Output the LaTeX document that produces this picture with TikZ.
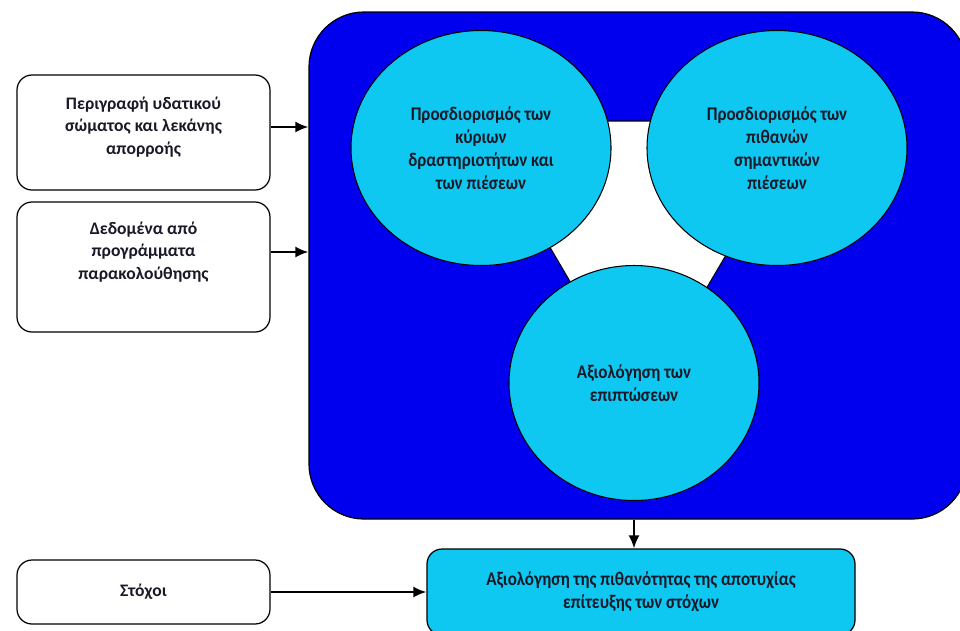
\documentclass[tikz,border=0pt]{standalone}
\usepackage{fontspec}
\setmainfont{Carlito}
\newfontfamily\narrowfont[FakeStretch=0.88]{Carlito}
\usepackage{tikz}
\usetikzlibrary{shapes.geometric,arrows.meta}

\definecolor{panelblue}{RGB}{0,0,238}
\definecolor{circcyan}{RGB}{15,200,242}
\definecolor{textdark}{RGB}{25,25,40}

\begin{document}
\begin{tikzpicture}[>={Latex[length=2.6mm,width=2.2mm]},
  srcbox/.style={draw=black, line width=0.7pt, rounded corners=0.3cm, fill=white, minimum width=5.06cm},
  boxtext/.style={align=center, text=textdark, font=\fontsize{10}{13}\selectfont\bfseries},
  circ/.style={ellipse, draw=black, line width=0.6pt, fill=circcyan, inner sep=0pt,
    minimum width=5.2cm, minimum height=4.7cm, align=center, text=textdark,
    font=\narrowfont\fontsize{11}{13}\selectfont\bfseries},
  arr/.style={->, line width=1.1pt}]
\useasboundingbox (0,0) rectangle (19.2,-12.6);

% Inputs
\node[srcbox, minimum height=2.30cm] (desc) at (2.87,-2.65) {};
\node[boxtext] (desctext) at (2.87,-2.54) {Περιγραφή υδατικού\\σώματος και λεκάνης\\απορροής};
\node[srcbox, minimum height=2.60cm] (data) at (2.87,-5.34) {};
\node[boxtext] (datatext) at (2.87,-5.04) {Δεδομένα από\\προγράμματα\\παρακολούθησης};

% Blue panel with the three steps
\node[draw=black, line width=0.7pt, fill=panelblue, rounded corners=1.1cm,
  minimum width=13.16cm, minimum height=10.14cm] (panel) at (12.76,-5.31) {};
\filldraw[fill=white, draw=black, line width=0.6pt] (9.52,-2.42) -- (16.1,-2.42) -- (12.8,-8.02) -- cycle;

\node[circ] (pressures) at (9.62,-2.96) {Προσδιορισμός των\\κύριων\\δραστηριοτήτων και\\των πιέσεων};
\node[circ] (significant) at (15.54,-2.96) {Προσδιορισμός των\\πιθανών\\σημαντικών\\πιέσεων};
\node[circ, minimum width=5.0cm] (impacts) at (12.68,-7.66) {Αξιολόγηση των\\επιπτώσεων};

% Goals and result
\node[srcbox, minimum height=1.28cm, boxtext] (goals) at (2.87,-11.84) {Στόχοι};
\node[draw=black, line width=0.7pt, fill=circcyan, rounded corners=0.3cm,
  minimum width=8.56cm, minimum height=1.72cm, boxtext, font=\narrowfont\fontsize{11}{13}\selectfont\bfseries] (risk) at (12.82,-11.84)
  {Αξιολόγηση της πιθανότητας της αποτυχίας\\επίτευξης των στόχων};

% Arrows
\draw[arr] (desctext -| desc.east) -- (desctext -| panel.west);
\draw[arr] (datatext -| data.east) -- (datatext -| panel.west);
\draw[arr] (impacts.center |- panel.south) -- (impacts.center |- risk.north);
\draw[arr] (goals.east) -- (risk.west |- goals.east);

\end{tikzpicture}
\end{document}
